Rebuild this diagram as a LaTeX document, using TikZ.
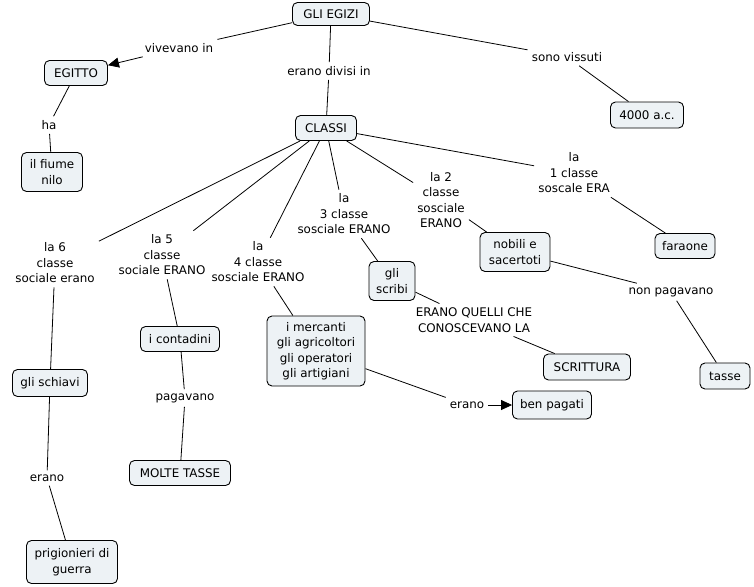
\documentclass[tikz,border=0pt]{standalone}
\usepackage{fontspec}
\setmainfont{DejaVu Sans}
\usetikzlibrary{arrows.meta}
\definecolor{cfill}{RGB}{237,242,245}
\tikzset{
  every node/.style={font=\fontsize{11.9}{15.5}\selectfont, align=center},
  concept/.style={draw=black, line width=0.9pt, rounded corners=5pt, fill=cfill, inner sep=2pt},
  lbl/.style={inner sep=4pt},
  conn/.style={line width=0.8pt, black},
  arr/.style={conn, -{Triangle[length=11pt,width=10pt]}}
}
\begin{document}
\begin{tikzpicture}[x=1pt,y=-1pt]
\useasboundingbox (0,0) rectangle (754,586);
% concepts
\node[concept, minimum width=77pt, minimum height=23pt] (egizi) at (331,14) {GLI EGIZI};
\node[concept, minimum width=63pt, minimum height=25pt] (egitto) at (76,73) {EGITTO};
\node[concept, minimum width=61pt, minimum height=39pt] (nilo) at (52,172) {il fiume\\nilo};
\node[concept, minimum width=61pt, minimum height=25pt] (classi) at (326,128) {CLASSI};
\node[concept, minimum width=73pt, minimum height=26pt] (anni) at (647,115) {4000 a.c.};
\node[concept, minimum width=60pt, minimum height=25pt] (faraone) at (685,246) {faraone};
\node[concept, minimum width=70pt, minimum height=39pt] (nobili) at (515,252) {nobili e\\sacertoti};
\node[concept, minimum width=46pt, minimum height=39pt] (scribi) at (392,281) {gli\\scribi};
\node[concept, minimum width=87pt, minimum height=26pt] (scrittura) at (587,367) {SCRITTURA};
\node[concept, minimum width=50pt, minimum height=26pt] (tasse) at (725,376) {tasse};
\node[concept, minimum width=98pt, minimum height=70pt] (mercanti) at (316,351) {i mercanti\\gli agricoltori\\gli operatori\\gli artigiani};
\node[concept, minimum width=79pt, minimum height=28pt] (benpagati) at (552,405) {ben pagati};
\node[concept, minimum width=79pt, minimum height=25pt] (contadini) at (180,339) {i contadini};
\node[concept, minimum width=101pt, minimum height=25pt] (molte) at (180,473) {MOLTE TASSE};
\node[concept, minimum width=75pt, minimum height=27pt] (schiavi) at (50,383) {gli schiavi};
\node[concept, minimum width=91pt, minimum height=43pt] (prig) at (72,562) {prigionieri di\\guerra};
% labels
\node[lbl] (l-viv) at (179,48) {vivevano in};
\node[lbl] (l-div) at (329,71) {erano divisi in};
\node[lbl] (l-vis) at (567,57) {sono vissuti};
\node[lbl] (l-ha) at (49,125) {ha};
\node[lbl] (l-6) at (55,263) {la 6\\classe\\sociale erano};
\node[lbl] (l-5) at (162,255) {la 5\\classe\\sociale ERANO};
\node[lbl] (l-4) at (258,262) {la\\4 classe\\sosciale ERANO};
\node[lbl] (l-3) at (344,214) {la\\3 classe\\sosciale ERANO};
\node[lbl] (l-2) at (441,200) {la 2\\classe\\sosciale\\ERANO};
\node[lbl] (l-1) at (574,173) {la\\1 classe\\soscale ERA};
\node[lbl] (l-non) at (671,292) {non pagavano};
\node[lbl] (l-quelli) at (474,320) {ERANO QUELLI CHE\\CONOSCEVANO LA};
\node[lbl] (l-erano2) at (467,405) {erano};
\node[lbl] (l-pag) at (185,398) {pagavano};
\node[lbl] (l-erano1) at (47,478) {erano};
% connectors
\draw[conn] (egizi) -- (l-viv);
\draw[arr] (l-viv) -- (egitto);
\draw[conn] (egizi) -- (l-div);
\draw[conn] (l-div) -- (classi);
\draw[conn] (egizi) -- (l-vis);
\draw[conn] (l-vis) -- (anni);
\draw[conn] (egitto) -- (l-ha);
\draw[conn] (l-ha) -- (nilo);
\draw[conn] (classi) -- (l-6);
\draw[conn] (l-6) -- (schiavi);
\draw[conn] (schiavi) -- (l-erano1);
\draw[conn] (l-erano1) -- (prig);
\draw[conn] (classi) -- (l-5);
\draw[conn] (l-5) -- (contadini);
\draw[conn] (contadini) -- (l-pag);
\draw[conn] (l-pag) -- (molte);
\draw[conn] (classi) -- (l-4);
\draw[conn] (l-4) -- (mercanti);
\draw[conn] (mercanti) -- (l-erano2);
\draw[arr] (l-erano2) -- (benpagati);
\draw[conn] (classi) -- (l-3);
\draw[conn] (l-3) -- (scribi);
\draw[conn] (scribi) -- (l-quelli);
\draw[conn] (l-quelli) -- (scrittura);
\draw[conn] (classi) -- (l-2);
\draw[conn] (l-2) -- (nobili);
\draw[conn] (nobili) -- (l-non);
\draw[conn] (l-non) -- (tasse);
\draw[conn] (classi) -- (l-1);
\draw[conn] (l-1) -- (faraone);
\end{tikzpicture}
\end{document}
